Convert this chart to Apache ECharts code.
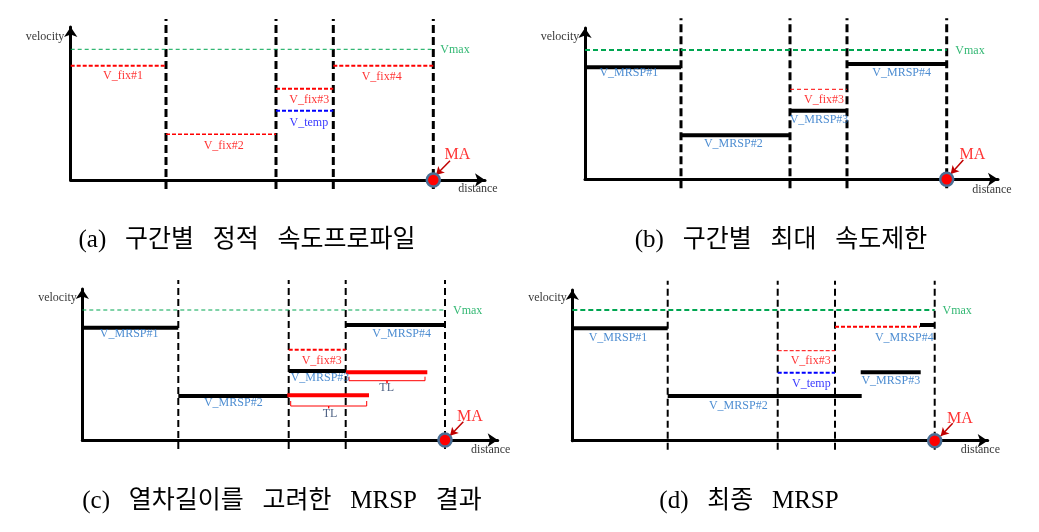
<!DOCTYPE html>
<html><head><meta charset="utf-8">
<script src="https://cdn.jsdelivr.net/npm/echarts@6/dist/echarts.min.js"></script>
<style>html,body{margin:0;padding:0;background:#fff}#chart{width:1039px;height:532px}</style>
</head><body><div id="chart"></div>
<script>
// ---------------- DATA (distance / velocity units) ----------------
// Panel (a) 구간별 정적 속도프로파일
const sectionEndsA = [95.3, 205.3, 262.6, 362.6];
const vmaxA = 130.7;
const vFixA = [114.3, 45.7, 91.3, 114.3];
const vTempA = 69.3;               // section 3
// Panel (b) 구간별 최대 속도제한
const sectionEndsB = [96, 205, 262, 361.7];
const vmaxB = 129.3;
const vMrspB = [112, 44, 68.6, 115.3];
const vFix3B = 90;
// Panel (c) 열차길이를 고려한 MRSP 결과
const sectionEndsC = [96, 206.4, 263.4, 362.7];
const vmaxC = 130;
const vMrspC = [112.3, 44, 69, 115];
const vFix3C = 90.3;
const tlBarsC = [[205, 286.7, 44.7], [263.7, 345, 67.7]];          // [from, to, velocity]
const tlBracketsC = [[208.4, 284.4, 39, 34, 31.7], [266.7, 342.7, 63.3, 59.3, 56.7]];
// Panel (d) 최종 MRSP
const sectionEndsD = [95.4, 205.4, 262.7, 362.4];
const vmaxD = 130.7;
const vMrspD = [[0, 95.4, 112.4], [95.4, 289.4, 44.7], [288.4, 348.4, 68.4], [347.7, 362.4, 115.7]];
const vFixD = [[205.4, 262.7, 90], [262.7, 347.7, 114]];
const vTempD = [205.4, 262.7, 68];

// Text annotations [distance, velocity, text]
const labelsA = [[-25.7, 143, 'velocity'], [407.3, -9, 'distance'], [384.3, 130, 'Vmax'],
  [52.3, 104, 'V_fix#1'], [153, 34.3, 'V_fix#2'], [238.6, 80, 'V_fix#3'], [311, 102.7, 'V_fix#4'],
  [238.1, 57.3, 'V_temp'], [386.8, 25, 'MA']];
const labelsB = [[-25, 142.3, 'velocity'], [407, -10.7, 'distance'], [385, 128.3, 'Vmax'],
  [43.8, 106, 'V_MRSP#1'], [148.3, 35.3, 'V_MRSP#2'], [234, 59.3, 'V_MRSP#3'], [316.7, 106, 'V_MRSP#4'],
  [239, 79.3, 'V_fix#3'], [387.5, 24.3, 'MA']];
const labelsC = [[-24.8, 141.7, 'velocity'], [408.4, -10, 'distance'], [385.4, 129, 'Vmax'],
  [46.9, 106.3, 'V_MRSP#1'], [151, 36.7, 'V_MRSP#2'], [237.7, 61.7, 'V_MRSP#3'], [319.4, 106.3, 'V_MRSP#4'],
  [239.4, 79, 'V_fix#3'], [304.4, 51.7, 'TL'], [247.7, 26, 'TL'], [387.7, 23.3, 'MA']];
const labelsD = [[-24.8, 142.4, 'velocity'], [408, -9.3, 'distance'], [384.9, 129.7, 'Vmax'],
  [45.7, 102.4, 'V_MRSP#1'], [166, 35, 'V_MRSP#2'], [318.5, 59.7, 'V_MRSP#3'], [332, 102.4, 'V_MRSP#4'],
  [238.4, 79.7, 'V_fix#3'], [239, 56.4, 'V_temp'], [387.7, 22.4, 'MA']];
const maArrows = [[379.3, 19.3, 365.3, 5], [378.3, 19.3, 365.7, 5.3], [381, 18.3, 367.7, 4.3], [380.4, 17.4, 368.4, 4.7]];
const captions = ['(a)   구간별   정적   속도프로파일', '(b)   구간별   최대   속도제한',
  '(c)   열차길이를   고려한   MRSP   결과', '(d)   최종   MRSP'];

// ---------------- LAYOUT / STYLE ----------------
const layout = [
  {ox: 70.7, oy: 180, xTip: 490, yTip: 22, vTop: 161, vw: 3, vd: [8, 4], capX: 247, capY: 240},
  {ox: 585, oy: 179.3, xTip: 1003, yTip: 23, vTop: 161, vw: 3, vd: [8, 4], capX: 781, capY: 240},
  {ox: 82.3, oy: 440, xTip: 502.7, yTip: 284, vTop: 160, vw: 2, vd: [7, 4], capX: 282, capY: 501},
  {ox: 572.3, oy: 440.7, xTip: 992.7, yTip: 285, vTop: 160, vw: 2, vd: [7, 4], capX: 749, capY: 501}
];
const RED = '#ff0000', BLUE = '#0000ff', GREEN = '#00a651', MBLUE = '#1f6fc5', NAVY = '#1f3864', SERIF = 'Liberation Serif';
const labelColor = t => t === 'Vmax' ? GREEN : t === 'MA' ? RED : t.startsWith('V_fix') ? RED :
  t === 'V_temp' ? BLUE : t.startsWith('V_MRSP') ? MBLUE : t === 'TL' ? NAVY : '#000';

const grids = [], xAxes = [], yAxes = [], series = [];
layout.forEach((L, i) => {
  const w = L.xTip - 5 - L.ox, h = L.oy - (L.yTip + 5);
  grids.push({left: L.ox, top: L.yTip + 5, width: w, height: h});
  const axLine = {show: true, onZero: false, symbol: ['none', 'arrow'], symbolSize: [10, 10],
    lineStyle: {color: '#000', width: 3}};
  xAxes.push({type: 'value', gridIndex: i, min: 0, max: w, axisLine: axLine, axisTick: {show: false},
    axisLabel: {show: false}, splitLine: {show: false}});
  yAxes.push({type: 'value', gridIndex: i, min: 0, max: h, axisLine: axLine, axisTick: {show: false},
    axisLabel: {show: false}, splitLine: {show: false}});
});

function line(gi, pts, color, width, type, z) {
  series.push({type: 'line', xAxisIndex: gi, yAxisIndex: gi, data: pts, symbol: 'none', clip: false,
    silent: true, z: z || 2, lineStyle: {color, width, type: type || 'solid', cap: 'butt'}});
}
function seg(gi, x1, x2, y, color, width, type, z) { line(gi, [[x1, y], [x2, y]], color, width, type, z); }
function verticals(gi, ends) {
  ends.forEach(x => line(gi, [[x, -9], [x, layout[gi].vTop]], '#000', layout[gi].vw, layout[gi].vd, 1));
}
function sections(ends) { return ends.map((e, k) => [k === 0 ? 0 : ends[k - 1], e]); }
function labels(gi, arr) {
  series.push({type: 'scatter', xAxisIndex: gi, yAxisIndex: gi, symbolSize: 0, clip: false, silent: true, z: 5,
    data: arr.map(d => ({value: [d[0], d[1]], name: d[2],
      label: {show: true, position: 'inside', formatter: '{b}', fontFamily: SERIF,
        fontSize: d[2] === 'MA' ? 16 : 12, color: labelColor(d[2])}}))});
}
function ma(gi, x, a) {
  series.push({type: 'scatter', xAxisIndex: gi, yAxisIndex: gi, data: [[x, 0]], symbolSize: 13, clip: false,
    silent: true, zlevel: 1, z: 20, itemStyle: {color: RED, borderColor: '#4a6f96', borderWidth: 2.5, opacity: 1},
    markLine: {silent: true, symbol: ['none', 'arrow'], symbolSize: [7, 8], animation: false,
      lineStyle: {color: '#c00000', width: 1.5, type: 'solid'}, label: {show: false},
      data: [[{coord: [a[0], a[1]]}, {coord: [a[2], a[3]]}]]}});
}

// Panel (a)
verticals(0, sectionEndsA);
seg(0, 0, sectionEndsA[3], vmaxA, GREEN, 1, [4, 3]);
sections(sectionEndsA).forEach((s, k) => seg(0, s[0], s[1], vFixA[k], RED, k === 1 ? 1.5 : 2, [4, 2], 3));
seg(0, sectionEndsA[1], sectionEndsA[2], vTempA, BLUE, 2, [4, 2], 3);
labels(0, labelsA); ma(0, sectionEndsA[3], maArrows[0]);

// Panel (b)
verticals(1, sectionEndsB);
seg(1, 0, sectionEndsB[3], vmaxB, GREEN, 2, [5, 3]);
seg(1, sectionEndsB[1], sectionEndsB[2], vFix3B, RED, 1, [4, 3], 3);
sections(sectionEndsB).forEach((s, k) => seg(1, s[0], s[1], vMrspB[k], '#000', 4, 'solid', 3));
labels(1, labelsB); ma(1, sectionEndsB[3], maArrows[1]);

// Panel (c)
verticals(2, sectionEndsC);
seg(2, 0, sectionEndsC[3], vmaxC, GREEN, 1, [4, 3]);
seg(2, sectionEndsC[1], sectionEndsC[2], vFix3C, RED, 2, [4, 2], 3);
sections(sectionEndsC).forEach((s, k) => seg(2, s[0], s[1], vMrspC[k], '#000', 4, 'solid', 3));
tlBarsC.forEach(b => seg(2, b[0], b[1], b[2], RED, 4, 'solid', 4));
tlBracketsC.forEach(b => {
  const cx = (b[0] + b[1]) / 2;
  line(2, [[b[0], b[2]], [b[0], b[3]], [cx, b[3]], [cx, b[4]], [cx, b[3]], [b[1], b[3]], [b[1], b[2]]], RED, 1, 'solid', 4);
});
labels(2, labelsC); ma(2, sectionEndsC[3], maArrows[2]);

// Panel (d)
verticals(3, sectionEndsD);
seg(3, 0, sectionEndsD[3], vmaxD, GREEN, 2, [5, 3]);
vFixD.forEach((f, k) => seg(3, f[0], f[1], f[2], RED, k === 0 ? 1 : 2, [4, 2], 3));
seg(3, vTempD[0], vTempD[1], vTempD[2], BLUE, 2, [4, 2], 3);
vMrspD.forEach(m => seg(3, m[0], m[1], m[2], '#000', 4, 'solid', 4));
labels(3, labelsD); ma(3, sectionEndsD[3], maArrows[3]);

const chart = echarts.init(document.getElementById('chart'), null, {renderer: 'canvas'});
chart.setOption({
  animation: false,
  backgroundColor: '#fff',
  grid: grids, xAxis: xAxes, yAxis: yAxes, series,
  graphic: layout.map((L, i) => ({type: 'text', x: L.capX, y: L.capY, silent: true,
    style: {text: captions[i], fontFamily: '"Liberation Serif", "Noto Sans CJK KR"', fontSize: 25, fill: '#000',
      align: 'center', verticalAlign: 'middle'}}))
});
</script></body></html>
